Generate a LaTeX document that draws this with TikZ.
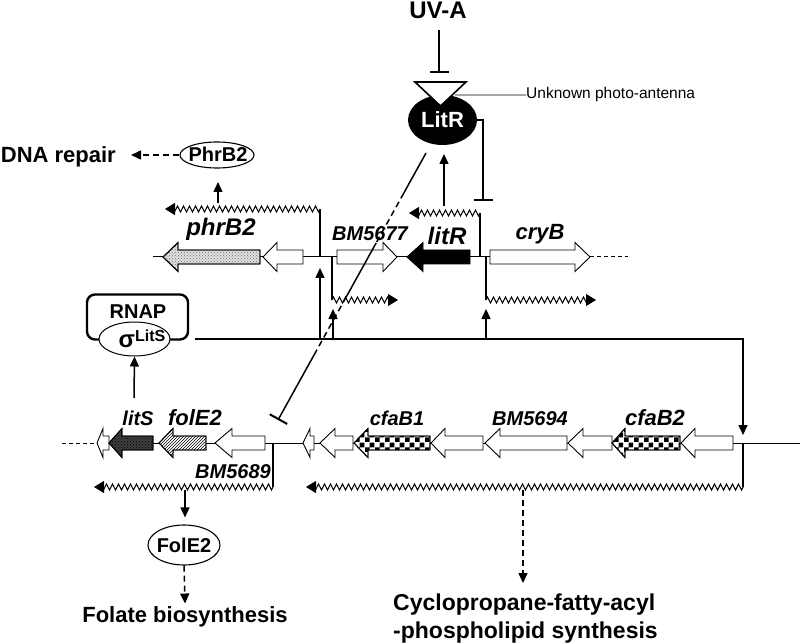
\documentclass[tikz,border=0pt]{standalone}
\usepackage{fontspec}
\setmainfont{Liberation Sans}
\usetikzlibrary{arrows.meta,decorations.pathmorphing,patterns,calc,shapes.geometric}

\pgfdeclarepatternformonly{bigchecker}{\pgfpointorigin}{\pgfqpoint{9.6pt}{9.6pt}}{\pgfqpoint{9.6pt}{9.6pt}}{%
  \pgfpathrectangle{\pgfpointorigin}{\pgfqpoint{4.8pt}{4.8pt}}%
  \pgfpathrectangle{\pgfqpoint{4.8pt}{4.8pt}}{\pgfqpoint{4.8pt}{4.8pt}}%
  \pgfusepath{fill}}

% [style]{tip x}{head-back x}{tail x}{y}
\newcommand\genearr[5][]{\draw[genebox,#1] (#4,#5-7) -- (#3,#5-7) -- (#3,#5-14.5) -- (#2,#5) -- (#3,#5+14.5) -- (#3,#5+7) -- (#4,#5+7) -- cycle;}

\begin{document}
\begin{tikzpicture}[x=1pt,y=-1pt,
  dna/.style={line width=1pt},
  genebox/.style={draw=black, line width=0.9pt, fill=white},
  dotgray/.style={fill=gray!25, postaction={pattern=crosshatch dots, pattern color=black!55}, postaction={draw}},
  darkdot/.style={fill=black!75, postaction={pattern=crosshatch dots, pattern color=black}, postaction={draw}},
  hatch/.style={fill=white, postaction={pattern=north east lines}, postaction={draw}},
  checker/.style={fill=white, postaction={pattern=bigchecker}, postaction={draw}},
  tx/.style={line width=1.1pt, decorate, decoration={zigzag, amplitude=3pt, segment length=6pt, post length=8pt}, -{Triangle[width=12pt,length=10pt]}},
  prom/.style={line width=1.1pt},
  reg/.style={line width=1.5pt, -{Triangle[width=9pt,length=10pt]}},
  dreg/.style={reg, dash pattern=on 6pt off 4pt},
  inh/.style={line width=2pt, -{Bar[width=19pt,line width=2.2pt]}},
  glab/.style={font=\bfseries\itshape\fontsize{21}{24}\selectfont, anchor=base},
  blab/.style={font=\bfseries\fontsize{22}{26}\selectfont, anchor=base},
  oval/.style={ellipse, draw, line width=1.1pt, inner sep=0pt},
]
\useasboundingbox (0,0) rectangle (800,644);

% ---------------- top: UV-A and LitR
\node[blab, font=\bfseries\fontsize{24}{26}\selectfont] (uva) at (438,19) {UV-A};
\coordinate (uvs) at (439,30);
\coordinate (uve) at (439,73);
\draw[inh] (uvs) -- (uve);

\node[ellipse, fill=black, minimum width=69, minimum height=50, inner sep=0pt] (litr) at (442.5,120) {};
\node[anchor=base, text=white, font=\bfseries\fontsize{22}{24}\selectfont] (litrt) at (442.5,128) {LitR};
\draw[line width=1.6pt, fill=white] (415,82) -- (466,82) -- (440.5,106) -- cycle;
\coordinate (antp) at (455,95);
\node[anchor=base west, font=\fontsize{15.5}{17}\selectfont, inner sep=0pt] (ant) at (526,99) {Unknown photo-antenna};
\draw[line width=0.9pt] (antp) -- (ant.west);

% LitR represses own promoter
\coordinate (lr1) at (477,120);
\coordinate (lr2) at (483,201);
\draw[inh] (lr1) -- (483,120) -- (lr2);

% ---------------- upper gene row (y = 257)
\draw[dna] (153,257) -- (590,257);
\draw[dna, dash pattern=on 4pt off 3pt] (590,257) -- (628,257);
\genearr[dotgray]{163}{178}{260}{257}
\genearr{263}{277}{303}{257}
\genearr{397}{383}{337}{257}
\genearr[fill=black]{407}{423}{470}{257}
\genearr{590}{575}{490}{257}

\node[glab, font=\bfseries\itshape\fontsize{24}{26}\selectfont] (lphrb2) at (221,236) {phrB2};
\node[glab, font=\bfseries\itshape\fontsize{20}{24}\selectfont] (lbm5677) at (370,241) {BM5677};
\node[glab, font=\bfseries\itshape\fontsize{24}{26}\selectfont] (llitr) at (447,245) {litR};
\node[glab, font=\bfseries\itshape\fontsize{22}{26}\selectfont] (lcryb) at (540,240) {cryB};

% promoters / transcripts upper row
\coordinate (p1a) at (320,257); \coordinate (p1b) at (320,209); \coordinate (p1c) at (165,209);
\draw[prom] (p1a) -- (p1b);
\draw[tx] (p1b) -- (p1c);
\coordinate (p2a) at (480,257); \coordinate (p2b) at (480,213); \coordinate (p2c) at (409,213);
\draw[prom] (p2a) -- (p2b);
\draw[tx] (p2b) -- (p2c);
\coordinate (p3a) at (332,257); \coordinate (p3b) at (332,300); \coordinate (p3c) at (398,300);
\draw[prom] (p3a) -- (p3b);
\draw[tx] (p3b) -- (p3c);
\coordinate (p4a) at (486,257); \coordinate (p4b) at (486,300); \coordinate (p4c) at (596,300);
\draw[prom] (p4a) -- (p4b);
\draw[tx] (p4b) -- (p4c);

% PhrB2 and DNA repair
\node[oval, minimum width=74, minimum height=26] (phrb2) at (217,155) {};
\node[anchor=base, font=\bfseries\fontsize{20}{22}\selectfont] (phrb2t) at (218,162) {PhrB2};
\coordinate (phs) at (218,203); \coordinate (phe) at (218,182);
\draw[reg] (phs) -- (phe);
\node[blab, anchor=base east, inner sep=0pt] (dnarep) at (116,163) {DNA repair};
\coordinate (drtip) at (131,155);
\draw[dreg] (phrb2.west) -- (drtip);

% LitR produced from litR transcript
\coordinate (lts) at (444,206); \coordinate (lte) at (444,154);
\draw[reg] (lts) -- (lte);

% ---------------- RNAP sigma LitS
\node[draw, line width=2.4pt, rounded corners=8pt, minimum width=101, minimum height=45, inner sep=0pt] (rnap) at (137.5,317) {};
\node[anchor=base, font=\bfseries\fontsize{20}{22}\selectfont] (rnapt) at (138,318) {RNAP};
\node[oval, fill=white, line width=1pt, minimum width=71, minimum height=34] (sigma) at (134.5,339) {};
\node[anchor=base, font=\bfseries, inner sep=0pt] (sigmat) at (142,347) {{\fontsize{24}{24}\selectfont σ}\raisebox{6pt}{\fontsize{16}{16}\selectfont LitS}};

\coordinate (rn0) at (195,339);
\coordinate (rn1) at (743,339);
\coordinate (rn2) at (743,435);
\draw[reg] (rn0) -- (rn1) -- (rn2);
\draw[reg] (320,339) -- (320,268);
\draw[reg] (333,339) -- (333,309);
\draw[reg] (486,339) -- (486,309);

% ---------------- lower gene row (y = 443)
\draw[dna, dash pattern=on 4pt off 3pt] (62,443) -- (97,443);
\draw[dna] (97,443) -- (800,443);
\genearr{97}{103}{109}{443}
\genearr[darkdot]{109}{122}{153}{443}
\genearr[hatch]{159}{173}{206}{443}
\genearr{215}{232}{265}{443}
\genearr{303}{310}{314}{443}
\genearr{320}{335}{353}{443}
\genearr[checker]{354}{368}{430}{443}
\genearr{431}{445}{483}{443}
\genearr{485}{500}{567}{443}
\genearr{568}{583}{612}{443}
\genearr[checker]{612}{625}{680}{443}
\genearr{681}{695}{733}{443}

\node[glab, font=\bfseries\itshape\fontsize{20}{24}\selectfont] (llits) at (138,425) {litS};
\node[glab, font=\bfseries\itshape\fontsize{22}{24}\selectfont] (lfole2) at (195,425) {folE2};
\node[glab, font=\bfseries\itshape\fontsize{20}{24}\selectfont] (lbm5689) at (233,478) {BM5689};
\node[glab, font=\bfseries\itshape\fontsize{20}{24}\selectfont] (lcfab1) at (397,425) {cfaB1};
\node[glab, font=\bfseries\itshape\fontsize{20}{24}\selectfont] (lbm5694) at (530,425) {BM5694};
\node[glab, font=\bfseries\itshape\fontsize{22}{24}\selectfont] (lcfab2) at (655,425) {cfaB2};

% litS -> sigma
\coordinate (lss) at (134,398);
\draw[reg] (lss) -- (sigma.south);

% lower promoters / transcripts
\coordinate (q1a) at (273,443); \coordinate (q1b) at (273,487); \coordinate (q1c) at (94,487);
\draw[prom] (q1a) -- (q1b);
\draw[tx] (q1b) -- (q1c);
\coordinate (q2a) at (743,443); \coordinate (q2b) at (743,487); \coordinate (q2c) at (306,487);
\draw[prom] (q2a) -- (q2b);
\draw[tx] (q2b) -- (q2c);

% FolE2
\node[oval, minimum width=72, minimum height=40] (fole2) at (184,545) {};
\node[anchor=base, font=\bfseries\fontsize{20}{22}\selectfont] (fole2t) at (184,552) {FolE2};
\coordinate (fs) at (185,490);
\draw[reg] (fs) -- ($(fole2.north)+(1,-7)$);
\node[blab] (folate) at (185,622) {Folate biosynthesis};
\draw[dreg] (fole2.south) -- ($(folate.north)+(0,1)$);

% Cyclopropane
\coordinate (cs) at (523,490);
\node[anchor=base west, inner sep=0pt, font=\bfseries\fontsize{23}{29}\selectfont] (cyclo) at (393,610) {Cyclopropane-fatty-acyl};
\node[anchor=base west, inner sep=0pt, font=\bfseries\fontsize{23}{29}\selectfont] (cyclo2) at (393,638) {-phospholipid synthesis};
\draw[dreg] (cs) -- (523,583);

% LitR -| BM5689 region
\coordinate (la) at (426,153);
\coordinate (lb) at (278,420);
\draw[line width=1.5pt] (la) -- ($(la)!0.15!(lb)$);
\draw[line width=1.5pt, dash pattern=on 6pt off 4pt] ($(la)!0.15!(lb)$) -- ($(la)!0.337!(lb)$);
\draw[line width=1.5pt] ($(la)!0.337!(lb)$) -- ($(la)!0.54!(lb)$);
\draw[line width=1.5pt, dash pattern=on 6pt off 4pt] ($(la)!0.54!(lb)$) -- ($(la)!0.738!(lb)$);
\draw[line width=1.5pt, -{Bar[width=20pt,line width=2pt]}] ($(la)!0.738!(lb)$) -- (lb);
\end{tikzpicture}
\end{document}
